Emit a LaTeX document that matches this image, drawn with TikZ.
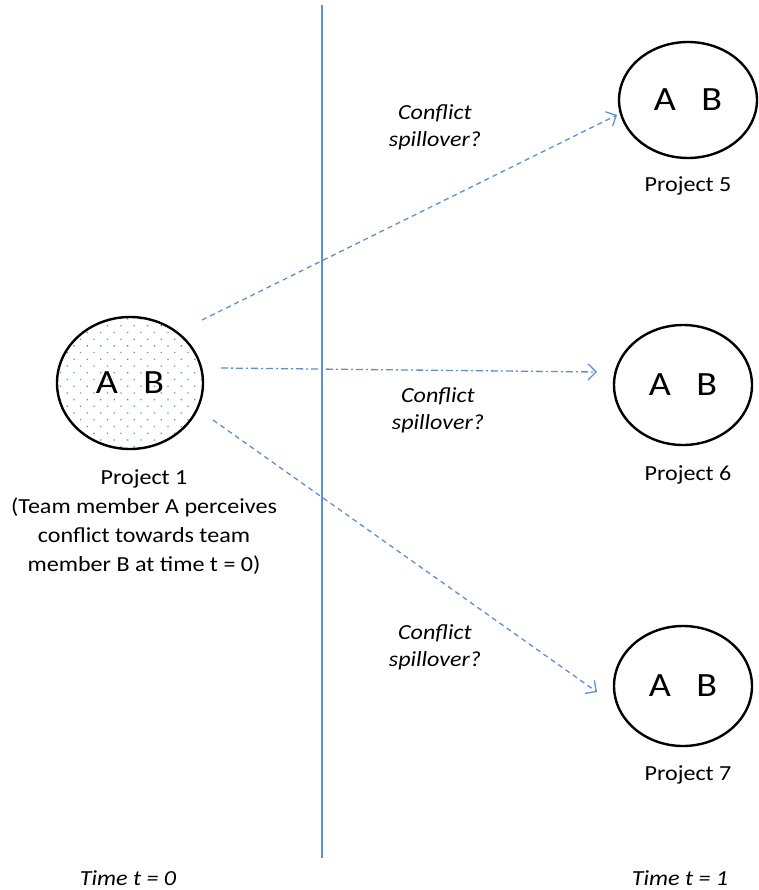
\documentclass[tikz,border=0pt]{standalone}
\usepackage{fontspec}
\setmainfont{Carlito}[FakeStretch=1.12]
\usetikzlibrary{arrows.meta,patterns.meta,shapes.geometric}
\definecolor{lineblue}{RGB}{91,145,208}
\definecolor{dotblue}{RGB}{90,140,210}

\begin{document}
\begin{tikzpicture}[x=1pt,y=1pt,yscale=-1,xscale=1,
  proj/.style={draw,ellipse,line width=2.4,inner sep=0pt,font=\fontsize{34}{40}\selectfont},
  txt/.style={font=\fontsize{21.5}{29}\selectfont,align=center},
  spill/.style={font=\fontsize{21.5}{27}\selectfont\itshape,align=center},
  link/.style={lineblue,line width=1.3,-{Straight Barb[length=8,width=16,line width=1.3]}}]
\useasboundingbox (0,0) rectangle (758,890);

%Shape: Ellipse [project 1]
\node [proj,minimum width=146,minimum height=132,
  pattern={Dots[distance=9.5,angle=45,radius=0.9]},pattern color=dotblue] (p1) at (130,383) {A\hspace{0.75em}B};
%Shape: Ellipse [project 5]
\node [proj,minimum width=138,minimum height=116] (p5) at (688,100) {A\hspace{0.75em}B};
%Shape: Ellipse [project 6]
\node [proj,minimum width=138,minimum height=120] (p6) at (683,385) {A\hspace{0.75em}B};
%Shape: Ellipse [project 7]
\node [proj,minimum width=138,minimum height=120] (p7) at (683,686) {A\hspace{0.75em}B};

%Straight Lines [time divider]
\coordinate (top) at (322,5);
\coordinate (bot) at (322,858);
\draw [lineblue,line width=1.3] (top) -- (bot);

%Arrow ends
\coordinate (a1) at (202,320);
\coordinate (b1) at (617,115);
\coordinate (a2) at (221,368);
\coordinate (b2) at (597,372);
\coordinate (a3) at (213,420);
\coordinate (b3) at (597,692);

%Straight Lines [spillover arrows]
\draw [link,dash pattern=on 5 off 4] (a1) -- (b1);
\draw [link,dash pattern=on 7 off 3 on 2 off 3] (a2) -- (b2);
\draw [link,dash pattern=on 5 off 4] (a3) -- (b3);

% Text Node
\node [txt] (l1) at (144,522) {Project 1\\(Team member A perceives\\conflict towards team\\member B at time t = 0)};
% Text Node
\node [txt] (l5) at (688,186) {Project 5};
% Text Node
\node [txt] (l6) at (688,475) {Project 6};
% Text Node
\node [txt] (l7) at (688,775) {Project 7};
% Text Node
\node [spill] (c1) at (435,127) {Conflict\\spillover?};
% Text Node
\node [spill] (c2) at (438,410) {Conflict\\spillover?};
% Text Node
\node [spill] (c3) at (435,647) {Conflict\\spillover?};
% Text Node
\node [spill] (t0) at (128,878) {Time t = 0};
% Text Node
\node [spill] (t1) at (680,878) {Time t = 1};

\end{tikzpicture}
\end{document}
